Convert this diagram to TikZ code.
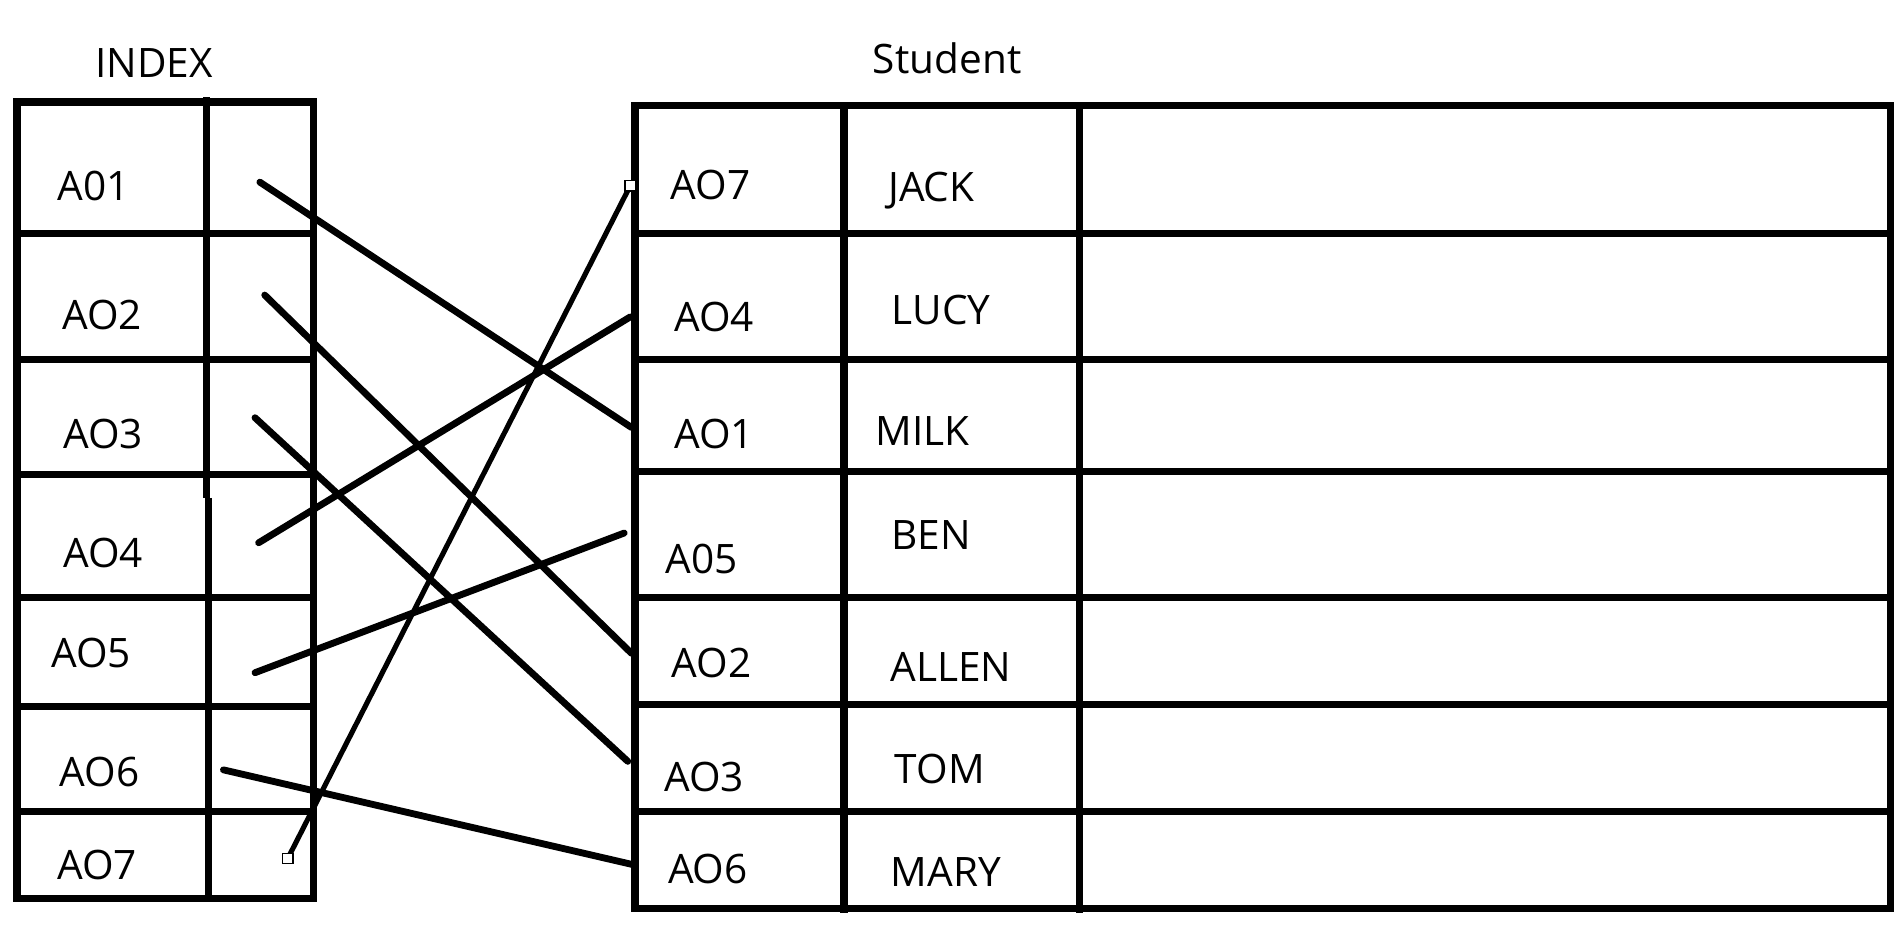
\documentclass[tikz,border=0pt]{standalone}
\usepackage{fontspec}
\setmainfont{Open Sans}
\usetikzlibrary{positioning}
\tikzset{
    grid/.style={line width=1.7pt},
    link/.style={line width=1.6pt, line cap=round},
    thinlink/.style={line width=1.2pt},
    cell/.style={font=\fontsize{9.5}{11}\selectfont, inner sep=0pt},
    handle/.style={draw, fill=white, line width=0.3pt, minimum size=2.5pt, inner sep=0pt},
}
\begin{document}
\begin{tikzpicture}[x=0.01cm, y=-0.01cm]
    \useasboundingbox (0,0) rectangle (1568,776);

    % INDEX table
    \node[cell] (index) at (127,52) {INDEX};
    \draw[grid] (14,84) rectangle (258,740);
    \draw[grid] (170,80) -- (170,410) (172,410) -- (172,742);
    \foreach \y in {192,296,391,492,582,668}
      \draw[grid] (12,\y) -- (258,\y);
    \foreach \n/\x/\y/\t in {i1/77/153/A01, i2/84/259/AO2, i3/85/357/AO3,
        i4/85/455/AO4, i5/75/538/AO5, i6/82/636/AO6, i7/80/712/AO7}
      \node[cell] (\n) at (\x,\y) {\t};

    % Student table
    \node[cell] (student) at (780,48) {Student};
    \draw[grid] (523,87) rectangle (1557,748);
    \draw[grid] (695,87) -- (695,752) (889,87) -- (889,752);
    \foreach \y in {192,296,388,492,580,668}
      \draw[grid] (523,\y) -- (1559,\y);
    \foreach \n/\x/\y/\t in {s1/585/152/AO7, s2/588/261/AO4, s3/588/357/AO1,
        s4/578/460/A05, s5/586/546/AO2, s6/580/640/AO3, s7/583/716/AO6}
      \node[cell] (\n) at (\x,\y) {\t};
    \foreach \n/\x/\y/\t in {m1/767/157/JACK, m2/775/255/LUCY, m3/760/355/MILK,
        m4/767/441/BEN, m5/783/549/ALLEN, m6/774/633/TOM, m7/779/718/MARY}
      \node[cell] (\n) at (\x,\y) {\t};

    % pointers
    \coordinate (p1) at (214,150);
    \coordinate (p2) at (218,243);
    \coordinate (p3) at (210,344);
    \coordinate (p4) at (213,447);
    \coordinate (p5) at (210,554);
    \coordinate (p6) at (184,634);
    \coordinate (p7) at (237,707);
    \coordinate (q1) at (520,352);
    \coordinate (q2) at (520,538);
    \coordinate (q3) at (517,627);
    \coordinate (q4) at (519,261);
    \coordinate (q5) at (514,439);
    \coordinate (q6) at (521,712);
    \coordinate (q7) at (519,153);
    \foreach \a/\b in {p1/q1, p2/q2, p3/q3, p4/q4, p5/q5, p6/q6}
      \draw[link] (\a) -- (\b);
    \draw[thinlink] (p7) -- (q7);
    \node[handle] at (p7) {};
    \node[handle] at (q7) {};
\end{tikzpicture}
\end{document}
